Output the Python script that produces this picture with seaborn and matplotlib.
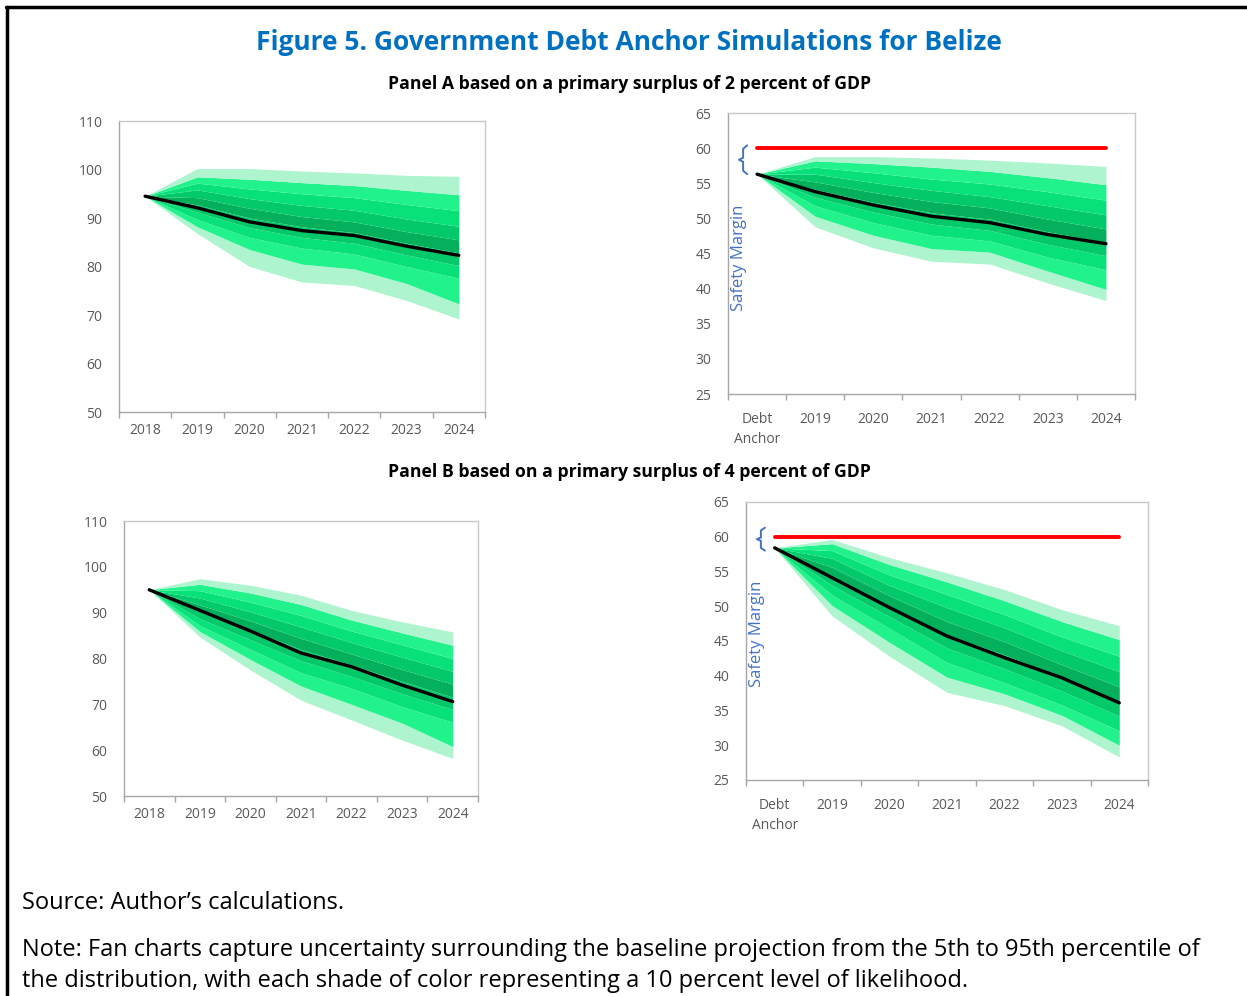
import numpy as np
import matplotlib
matplotlib.use("Agg")
import matplotlib.pyplot as plt
from matplotlib.lines import Line2D
import seaborn as sns

# categories
years_a = ["2018", "2019", "2020", "2021", "2022", "2023", "2024"]
years_b = ["Debt\nAnchor", "2019", "2020", "2021", "2022", "2023", "2024"]
anchor = 60

# Panel A, left (debt level), percentiles 5..95 and baseline
a1_base = [94.5, 92.1, 89.2, 87.4, 86.4, 84.2, 82.3]
a1_p95 = [94.5, 100.2, 100.2, 99.7, 99.3, 98.8, 98.6]
a1_p85 = [94.5, 98.5, 98.0, 97.3, 96.7, 95.7, 94.8]
a1_p75 = [94.5, 97.2, 96.0, 95.0, 94.2, 92.8, 91.5]
a1_p65 = [94.5, 95.8, 94.0, 92.6, 91.6, 89.8, 88.3]
a1_p55 = [94.5, 94.2, 92.0, 90.3, 89.2, 87.2, 85.5]
a1_p45 = [94.5, 92.7, 90.0, 88.2, 87.0, 84.8, 82.8]
a1_p35 = [94.5, 91.2, 88.0, 86.0, 84.8, 82.4, 80.2]
a1_p25 = [94.5, 89.7, 86.0, 83.8, 82.6, 80.0, 77.6]
a1_p15 = [94.5, 88.2, 83.5, 80.5, 79.5, 76.5, 72.3]
a1_p05 = [94.5, 86.8, 80.0, 76.8, 76.1, 73.0, 69.2]

# Panel A, right (relative to debt anchor)
a2_base = [56.3, 53.8, 51.9, 50.3, 49.4, 47.7, 46.4]
a2_p95 = [56.3, 58.8, 58.8, 58.6, 58.3, 57.9, 57.4]
a2_p85 = [56.3, 58.2, 57.8, 57.3, 56.7, 55.8, 54.8]
a2_p75 = [56.3, 57.3, 56.5, 55.6, 54.9, 53.8, 52.6]
a2_p65 = [56.3, 56.3, 55.1, 54.0, 53.1, 51.8, 50.5]
a2_p55 = [56.3, 55.2, 53.7, 52.4, 51.5, 49.9, 48.5]
a2_p45 = [56.3, 54.1, 52.3, 50.8, 49.9, 48.1, 46.6]
a2_p35 = [56.3, 53.0, 50.9, 49.2, 48.3, 46.3, 44.7]
a2_p25 = [56.3, 51.8, 49.4, 47.6, 46.8, 44.5, 42.7]
a2_p15 = [56.3, 50.3, 47.6, 45.7, 45.2, 42.5, 39.9]
a2_p05 = [56.3, 48.8, 45.8, 43.9, 43.5, 40.8, 38.3]

# Panel B, left
b1_base = [95.0, 90.5, 86.0, 81.2, 78.2, 74.2, 70.6]
b1_p95 = [95.0, 97.4, 96.0, 93.8, 90.5, 88.0, 85.8]
b1_p85 = [95.0, 96.2, 94.3, 91.8, 88.4, 85.6, 82.9]
b1_p75 = [95.0, 94.8, 92.3, 89.4, 86.0, 83.0, 80.0]
b1_p65 = [95.0, 93.2, 90.2, 86.9, 83.5, 80.3, 77.2]
b1_p55 = [95.0, 91.7, 88.2, 84.4, 81.0, 77.6, 74.4]
b1_p45 = [95.0, 90.2, 86.2, 82.0, 78.6, 75.0, 71.6]
b1_p35 = [95.0, 88.7, 84.1, 79.5, 76.1, 72.3, 68.9]
b1_p25 = [95.0, 87.2, 82.0, 76.9, 73.5, 69.5, 66.1]
b1_p15 = [95.0, 85.9, 79.8, 74.0, 70.0, 65.9, 60.8]
b1_p05 = [95.0, 84.7, 77.5, 70.9, 66.6, 62.2, 58.2]

# Panel B, right
b2_base = [58.4, 54.1, 49.8, 45.7, 42.6, 39.7, 36.1]
b2_p95 = [58.4, 59.6, 57.0, 54.8, 52.4, 49.5, 47.2]
b2_p85 = [58.4, 59.0, 56.0, 53.5, 50.8, 47.8, 45.2]
b2_p75 = [58.4, 58.0, 54.5, 51.7, 48.8, 45.6, 42.8]
b2_p65 = [58.4, 56.9, 53.0, 49.8, 46.9, 43.6, 40.6]
b2_p55 = [58.4, 55.6, 51.5, 47.8, 44.9, 41.6, 38.4]
b2_p45 = [58.4, 54.3, 50.0, 45.9, 43.0, 39.7, 36.3]
b2_p35 = [58.4, 53.0, 48.5, 44.0, 41.0, 37.8, 34.2]
b2_p25 = [58.4, 51.6, 46.8, 41.9, 39.0, 35.8, 32.1]
b2_p15 = [58.4, 50.1, 44.8, 39.8, 37.4, 34.3, 30.0]
b2_p05 = [58.4, 48.6, 42.8, 37.6, 35.7, 32.8, 28.3]

# outer -> inner shades
shades = ["#aef5cf", "#22f28c", "#08e07a", "#03c96a", "#04b05b"]

sns.set_theme(style="white")
plt.rcParams["font.family"] = ["Open Sans", "DejaVu Sans"]

fig = plt.figure(figsize=(12.47, 9.96), dpi=100)


def fan(ax, cats, base, pcts, ylim, yticks, xpad=8):
    x = np.arange(len(cats))
    for i in range(len(pcts) - 1):
        c = shades[min(i, len(pcts) - 2 - i)]
        ax.fill_between(x, pcts[i], pcts[i + 1], color=c, lw=0)
    sns.lineplot(x=x, y=base, ax=ax, color="black", lw=2.4)
    ax.set_xlim(-0.5, len(cats) - 0.5)
    ax.set_ylim(*ylim)
    ax.set_yticks(yticks)
    ax.set_xticks(x)
    ax.set_xticklabels(cats, linespacing=1.45)
    ax.set_xticks(np.arange(len(cats) + 1) - 0.5, minor=True)
    ax.tick_params(axis="x", which="major", length=0, pad=xpad, labelsize=10, labelcolor="#595959")
    ax.tick_params(axis="x", which="minor", length=4, color="#a6a6a6", width=1, bottom=True)
    ax.tick_params(axis="y", length=0, pad=12, labelsize=10, labelcolor="#595959")
    for s in ax.spines.values():
        s.set_color("#c8c8c8")
        s.set_linewidth(1.0)
    ax.spines["bottom"].set_color("#a6a6a6")
    ax.spines["left"].set_color("#a6a6a6")
    ax.set_xlabel("")
    ax.set_ylabel("")


def margin(ax, top, bot, cats, text_y):
    x = np.arange(len(cats))
    sns.lineplot(x=x, y=[anchor] * len(cats), ax=ax, color="#ff0000", lw=2.8)
    mid = (top + bot) / 2
    xv, xr, xl = -0.24, -0.17, -0.31
    d = (top - bot) * 0.12
    bx = [xr, xv, xv, xl, xv, xv, xr]
    by = [top, top - d, mid + d * 0.6, mid, mid - d * 0.6, bot + d, bot]
    ax.plot(bx, by, color="#4472c4", lw=1.4, clip_on=False)
    ax.text(-0.31, text_y, "Safety Margin", rotation=90, color="#4472c4",
            fontsize=12, ha="center", va="center")


ax1 = fig.add_axes([0.0954, 0.5863, 0.2935, 0.2922])
fan(ax1, years_a, a1_base,
    [a1_p05, a1_p15, a1_p25, a1_p35, a1_p45, a1_p55, a1_p65, a1_p75, a1_p85, a1_p95],
    (50, 110), range(50, 111, 10))

ax2 = fig.add_axes([0.5838, 0.6044, 0.3264, 0.2821])
fan(ax2, years_b, a2_base,
    [a2_p05, a2_p15, a2_p25, a2_p35, a2_p45, a2_p55, a2_p65, a2_p75, a2_p85, a2_p95],
    (25, 65), range(25, 66, 5), xpad=13)
margin(ax2, 60.4, 56.3, years_b, 44.4)

ax3 = fig.add_axes([0.0994, 0.2008, 0.2839, 0.2761])
fan(ax3, years_a, b1_base,
    [b1_p05, b1_p15, b1_p25, b1_p35, b1_p45, b1_p55, b1_p65, b1_p75, b1_p85, b1_p95],
    (50, 110), range(50, 111, 10))

ax4 = fig.add_axes([0.5982, 0.2169, 0.3224, 0.2791])
fan(ax4, years_b, b2_base,
    [b2_p05, b2_p15, b2_p25, b2_p35, b2_p45, b2_p55, b2_p65, b2_p75, b2_p85, b2_p95],
    (25, 65), range(25, 66, 5), xpad=13)
margin(ax4, 61.3, 58.0, years_b, 46.0)

# titles and notes
fig.text(0.5045, 1 - 42 / 996, "Figure 5. Government Debt Anchor Simulations for Belize",
         ha="center", va="center", fontsize=19, fontweight="bold", color="#0070c0")
fig.text(0.5045, 1 - 84 / 996, "Panel A based on a primary surplus of 2 percent of GDP",
         ha="center", va="center", fontsize=12.7, fontweight="bold", color="black")
fig.text(0.5045, 1 - 472 / 996, "Panel B based on a primary surplus of 4 percent of GDP",
         ha="center", va="center", fontsize=12.7, fontweight="bold", color="black")
fig.text(22 / 1247, 1 - 903 / 996, "Source: Author\u2019s calculations.",
         ha="left", va="center", fontsize=17, color="black")
fig.text(22 / 1247, 1 - 950 / 996,
         "Note: Fan charts capture uncertainty surrounding the baseline projection from the 5th to 95th percentile of",
         ha="left", va="center", fontsize=17, color="black")
fig.text(22 / 1247, 3 / 996,
         "the distribution, with each shade of color representing a 10 percent level of likelihood.",
         ha="left", va="bottom", fontsize=17, color="black")

# page border (top and left edge)
fig.add_artist(Line2D([6 / 1247, 1], [1 - 7 / 996, 1 - 7 / 996], color="black", lw=2.5))
fig.add_artist(Line2D([7 / 1247, 7 / 1247], [0, 1 - 7 / 996], color="black", lw=2.5))

fig.savefig("out.png", dpi=100)
